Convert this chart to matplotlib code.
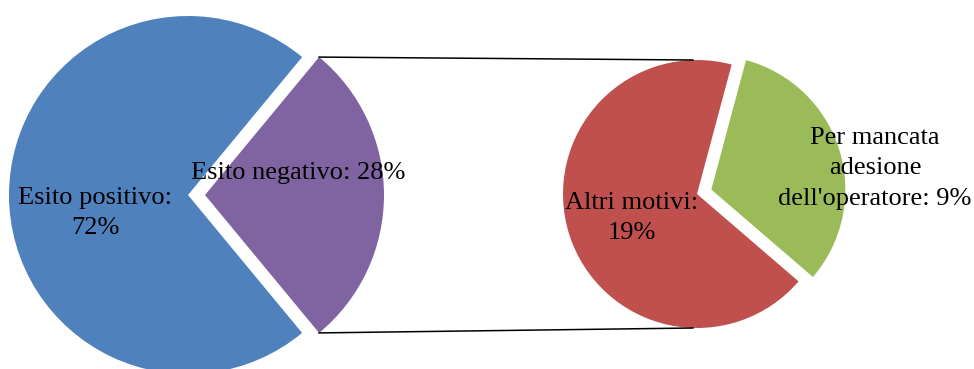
import numpy as np
import matplotlib
matplotlib.use("Agg")
import matplotlib.pyplot as plt

plt.rcParams['font.family'] = ['Liberation Serif', 'DejaVu Serif']

# esito dei controlli
esito_labels = ['Esito positivo:\n72%', 'Esito negativo: 28%']
esito_values = [72, 28]
esito_colors = ['#4F81BD', '#8064A2']

# dettaglio dell'esito negativo
motivi_labels = ['Altri motivi:\n19%', "Per mancata\nadesione\ndell'operatore: 9%"]
motivi_values = [19, 9]
motivi_colors = ['#C0504D', '#9BBB59']

W, H = 974, 369
fig = plt.figure(figsize=(W / 100, H / 100), dpi=100)
ax = fig.add_axes([0, 0, 1, 1])

# torta principale (explode in pixel, perché il raggio non è 1)
c1, r1 = (188, H - 195), 179
w1, _ = ax.pie(esito_values, colors=esito_colors, center=c1, radius=r1,
               startangle=esito_values[1] / 100 * 180, counterclock=True,
               explode=[0, 17], wedgeprops=dict(linewidth=0))

# torta secondaria
c2, r2 = (697, H - 194), 134
w2, _ = ax.pie(motivi_values, colors=motivi_colors, center=c2, radius=r2,
               startangle=75, counterclock=True,
               explode=[0, 15], wedgeprops=dict(linewidth=0))

# linee di collegamento dal settore negativo alla seconda torta
neg = w1[1]
cx, cy = neg.center
for ang, ty in [(neg.theta2, c2[1] + r2), (neg.theta1, c2[1] - r2)]:
    px = cx + neg.r * np.cos(np.radians(ang))
    py = cy + neg.r * np.sin(np.radians(ang))
    ax.plot([px, c2[0] - 4], [py, ty], color='black', lw=1.1, zorder=1)

fs = 19
ls = 1.5
ax.text(95, H - 213, esito_labels[0], ha='center', va='center', fontsize=fs, linespacing=ls)
ax.text(298, H - 173, esito_labels[1], ha='center', va='center', fontsize=fs)
ax.text(632, H - 218, motivi_labels[0], ha='center', va='center', fontsize=fs, linespacing=ls)
ax.text(875, H - 168, motivi_labels[1], ha='center', va='center', fontsize=fs, linespacing=ls)

ax.set_xlim(0, W)
ax.set_ylim(0, H)
ax.set_aspect('equal')
ax.axis('off')

fig.savefig('out.png', dpi=100)
